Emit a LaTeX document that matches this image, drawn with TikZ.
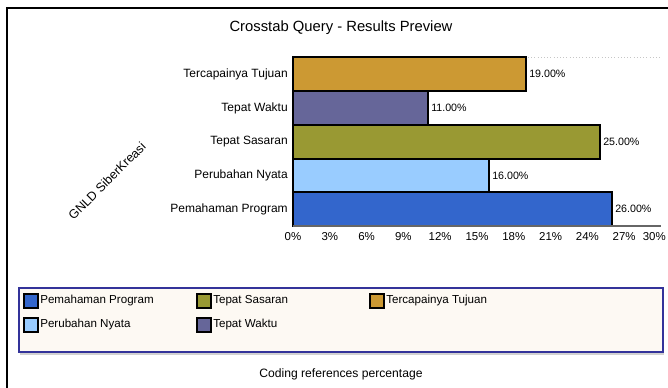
\documentclass[tikz,border=0pt]{standalone}
\usepackage{fontspec}
\setmainfont{Liberation Sans}
\usepackage{xcolor}
\usetikzlibrary{positioning}

\definecolor{progblue}{HTML}{3366CC}
\definecolor{nyatablue}{HTML}{99CCFF}
\definecolor{sasaranolive}{HTML}{999933}
\definecolor{waktuslate}{HTML}{666699}
\definecolor{tujuangold}{HTML}{CC9933}
\definecolor{legendnavy}{HTML}{33339A}
\definecolor{legendcream}{HTML}{FDF9F3}

\tikzset{
  bar/.style={draw=black, line width=0.8pt},
  catlabel/.style={anchor=east, inner sep=0pt, font=\fontsize{9}{10}\selectfont},
  vallabel/.style={anchor=west, inner sep=0pt, font=\fontsize{8}{9}\selectfont},
  ticklabel/.style={inner sep=0pt, font=\fontsize{8.6}{9}\selectfont},
  swatch/.style={draw=black, line width=0.8pt},
  legtext/.style={anchor=west, inner sep=0pt, font=\fontsize{8.7}{9}\selectfont}
}

\begin{document}
\begin{tikzpicture}[x=0.75pt, y=-0.75pt]
\useasboundingbox (0,0) rectangle (668,388);

% Frame
\draw[line width=1.1pt] (7,388) -- (7,8) -- (668,8);
\node[font=\fontsize{11.1}{12}\selectfont] (title) at (341,28) {Crosstab Query - Results Preview};

% Plot area top
\draw[gray!45, dotted] (528,57) -- (661,57);

% Bars
\draw[bar, fill=tujuangold] (293,57) rectangle (526,91);
\draw[bar, fill=waktuslate] (293,91) rectangle (428,125);
\draw[bar, fill=sasaranolive] (293,125) rectangle (600,159);
\draw[bar, fill=nyatablue] (293,159) rectangle (489,192);
\draw[bar, fill=progblue] (293,192) rectangle (612,226);

% Category labels
\node[catlabel] (tujuan) at (288,74) {Tercapainya Tujuan};
\node[catlabel] (waktu) at (288,108) {Tepat Waktu};
\node[catlabel] (sasaran) at (288,142) {Tepat Sasaran};
\node[catlabel] (nyata) at (288,175.5) {Perubahan Nyata};
\node[catlabel] (program) at (288,209) {Pemahaman Program};

% Value labels
\node[vallabel] (vtujuan) at (529,74) {19.00\%};
\node[vallabel] (vwaktu) at (431,108) {11.00\%};
\node[vallabel] (vsasaran) at (603,142) {25.00\%};
\node[vallabel] (vnyata) at (492,175.5) {16.00\%};
\node[vallabel] (vprogram) at (615,209) {26.00\%};

% Axes
\draw[black, line width=0.8pt] (293,57) -- (293,226);
\draw[gray!80!black, line width=0.8pt] (293,226) -- (661,226);
\foreach \p in {0,3,...,27}
  \node[ticklabel] (tick\p) at ({293+\p*12.267},237) {\p\%};
\node[ticklabel, anchor=east] (tick30) at (666,237) {30\%};

\node[rotate=45, inner sep=0pt, font=\fontsize{9.4}{10}\selectfont] (axisname) at (107,181) {GNLD SiberKreasi};

% Legend
\draw[gray!35, line width=0.8pt] (20,354) -- (664,354);
\draw[legendnavy, fill=legendcream, line width=0.9pt] (19,288) rectangle (663,352);
\draw[swatch, fill=progblue] (24,294) rectangle (38,308);
\node[legtext] (lprogram) at (40,301) {Pemahaman Program};
\draw[swatch, fill=sasaranolive] (197,294) rectangle (211,308);
\node[legtext] (lsasaran) at (213,301) {Tepat Sasaran};
\draw[swatch, fill=tujuangold] (370,294) rectangle (384,308);
\node[legtext] (ltujuan) at (386,301) {Tercapainya Tujuan};
\draw[swatch, fill=nyatablue] (24,318) rectangle (38,332);
\node[legtext] (lnyata) at (40,325) {Perubahan Nyata};
\draw[swatch, fill=waktuslate] (197,318) rectangle (211,332);
\node[legtext] (lwaktu) at (213,325) {Tepat Waktu};

\node[font=\fontsize{9.1}{10}\selectfont] (footer) at (341,374) {Coding references percentage};
\end{tikzpicture}
\end{document}
